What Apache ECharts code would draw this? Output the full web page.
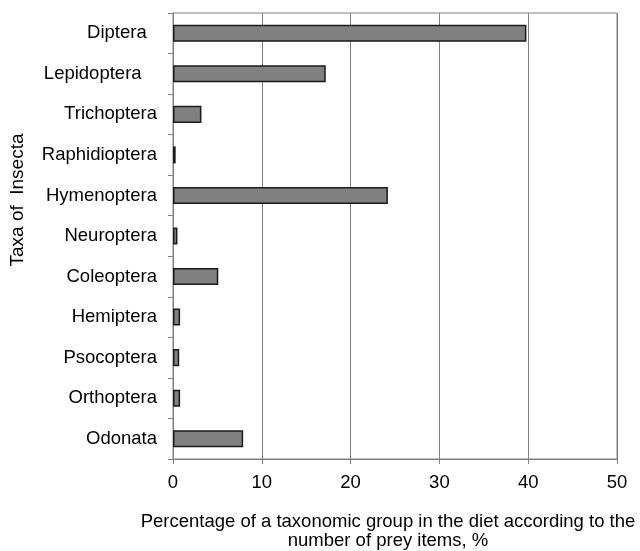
<!DOCTYPE html>
<html>
<head>
<meta charset="utf-8">
<script src="https://cdn.jsdelivr.net/npm/echarts@6/dist/echarts.min.js"></script>
<style>
  html, body { margin: 0; padding: 0; background: #fff; }
  #chart { width: 640px; height: 551px; }
</style>
</head>
<body>
<div id="chart"></div>
<script>
// Insect taxa in the diet, share of prey items (%)
const taxa = ['Diptera  ', 'Lepidoptera   ', 'Trichoptera', 'Raphidioptera', 'Hymenoptera',
              'Neuroptera', 'Coleoptera', 'Hemiptera', 'Psocoptera', 'Orthoptera', 'Odonata'];
const shares = [39.8, 17.2, 3.2, 0.3, 24.2, 0.5, 5.1, 0.8, 0.7, 0.8, 7.9];
const xTicks = [0, 10, 20, 30, 40, 50];

const FONT = '"Liberation Sans", Arial, sans-serif';
const chart = echarts.init(document.getElementById('chart'), null, { renderer: 'canvas' });

chart.setOption({
  animation: false,
  backgroundColor: '#ffffff',
  grid: {
    left: 173, right: 23, top: 13, bottom: 92,
    show: true, borderColor: '#808080', borderWidth: 1, backgroundColor: 'transparent'
  },
  xAxis: {
    type: 'value',
    min: xTicks[0],
    max: xTicks[xTicks.length - 1],
    interval: xTicks[1] - xTicks[0],
    axisLine: { show: true, lineStyle: { color: '#808080', width: 1 } },
    axisTick: { show: true, length: 5, inside: false, lineStyle: { color: '#808080' } },
    axisLabel: { color: '#000', fontFamily: FONT, fontSize: 18.5, margin: 14 },
    splitLine: { show: true, lineStyle: { color: '#808080', width: 1 } }
  },
  yAxis: {
    type: 'category',
    data: taxa,
    inverse: true,
    axisLine: { show: true, lineStyle: { color: '#808080', width: 1 } },
    axisTick: { show: true, length: 5, inside: false, lineStyle: { color: '#808080' } },
    axisLabel: { color: '#000', fontFamily: FONT, fontSize: 18.5, margin: 16 },
    splitLine: { show: false }
  },
  series: [{
    type: 'bar',
    data: shares,
    barWidth: '42%',
    itemStyle: { color: '#808080', borderColor: '#1a1a1a', borderWidth: 1.5 }
  }],
  graphic: [
    {
      type: 'text',
      x: 18, y: 200,
      rotation: Math.PI / 2,
      style: {
        text: 'Taxa of  Insecta',
        fontFamily: FONT, fontSize: 19, fill: '#000',
        textAlign: 'center', textVerticalAlign: 'middle'
      }
    },
    {
      type: 'text',
      x: 388, y: 512,
      style: {
        text: 'Percentage of a taxonomic group in the diet according to the\nnumber of prey items, %',
        fontFamily: FONT, fontSize: 18.5, fill: '#000', lineHeight: 19,
        textAlign: 'center', textVerticalAlign: 'top'
      }
    }
  ]
});
</script>
</body>
</html>
